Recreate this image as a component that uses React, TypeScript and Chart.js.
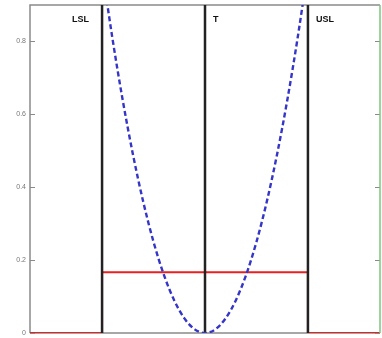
import React, { useEffect, useRef } from "react";
import { Chart, registerables } from "chart.js";

Chart.register(...registerables);

// Specification limits and target
const specLimits = [-1, 0, 1];
const specNames = ["LSL", "T", "USL"];

// Quadratic (Taguchi) loss curve
const lossX = [-1.0, -0.9, -0.8, -0.7, -0.6, -0.5, -0.4, -0.3, -0.2, -0.1, 0, 0.1, 0.2, 0.3, 0.4, 0.5, 0.6, 0.7, 0.8, 0.9, 1.0];
const lossY = [1.0, 0.81, 0.64, 0.49, 0.36, 0.25, 0.16, 0.09, 0.04, 0.01, 0, 0.01, 0.04, 0.09, 0.16, 0.25, 0.36, 0.49, 0.64, 0.81, 1.0];

// Step (goalpost) loss
const stepX = [-1.7, -1, -1, 1, 1, 1.7];
const stepY = [0, 0, 0.1667, 0.1667, 0, 0];

const yTicks = [0, 0.2, 0.4, 0.6, 0.8];
const xRange = [-1.7, 1.7];
const yRange = [0, 0.9];

const framePlugin = {
  id: "frame",
  beforeDatasetsDraw(chart: any) {
    const { ctx, chartArea: a, scales } = chart;
    ctx.save();
    ctx.lineWidth = 1.5;
    ctx.strokeStyle = "#8a8a8a";
    ctx.beginPath();
    ctx.moveTo(a.left, a.bottom);
    ctx.lineTo(a.left, a.top);
    ctx.lineTo(a.right, a.top);
    ctx.moveTo(a.left, a.bottom);
    ctx.lineTo(a.right, a.bottom);
    ctx.stroke();
    ctx.lineWidth = 1;
    ctx.beginPath();
    for (const t of yTicks) {
      const py = Math.round(scales.y.getPixelForValue(t)) + 0.5;
      ctx.moveTo(a.left, py);
      ctx.lineTo(a.left + 5, py);
      ctx.moveTo(a.right, py);
      ctx.lineTo(a.right - 5, py);
    }
    ctx.stroke();
    ctx.restore();
  },
  afterDatasetsDraw(chart: any) {
    const { ctx, chartArea: a, scales } = chart;
    ctx.save();
    ctx.strokeStyle = "#7cc47c";
    ctx.lineWidth = 1.5;
    ctx.beginPath();
    ctx.moveTo(a.right, a.top);
    ctx.lineTo(a.right, a.bottom);
    ctx.stroke();
    ctx.fillStyle = "#111";
    ctx.font = "bold 9px 'Liberation Sans', Arial, sans-serif";
    ctx.textBaseline = "middle";
    const ty = scales.y.getPixelForValue(0.86);
    specLimits.forEach((v, i) => {
      const px = scales.x.getPixelForValue(v);
      if (i === 0) {
        ctx.textAlign = "right";
        ctx.fillText(specNames[i], px - 13, ty);
      } else {
        ctx.textAlign = "left";
        ctx.fillText(specNames[i], px + 8, ty);
      }
    });
    ctx.restore();
  },
};

export default function App() {
  const ref = useRef<HTMLCanvasElement>(null);

  useEffect(() => {
    if (!ref.current) return;
    const vertical = specLimits.map((v) => ({
      data: [
        { x: v, y: yRange[0] },
        { x: v, y: yRange[1] },
      ],
      borderColor: "#222222",
      borderWidth: 2.5,
      pointRadius: 0,
    }));
    const chart = new Chart(ref.current, {
      type: "line",
      data: {
        // earlier datasets are painted on top
        datasets: [
          {
            data: lossX.map((x, i) => ({ x, y: lossY[i] })),
            borderColor: "#3535c8",
            borderWidth: 2.4,
            borderDash: [5, 3],
            pointRadius: 0,
            cubicInterpolationMode: "monotone",
          },
          ...vertical,
          {
            data: stepX.map((x, i) => ({ x, y: stepY[i] })),
            borderColor: "#e82020",
            borderWidth: 2,
            pointRadius: 0,
          },
        ],
      },
      options: {
        animation: false,
        responsive: false,
        maintainAspectRatio: false,
        layout: { padding: { left: 0, top: 5, right: 2, bottom: 0 } },
        plugins: { legend: { display: false }, tooltip: { enabled: false } },
        scales: {
          x: {
            type: "linear",
            min: xRange[0],
            max: xRange[1],
            ticks: { display: false },
            grid: { display: false, drawTicks: false },
            border: { display: false },
            afterFit: (s: any) => {
              s.height = 5;
              s.paddingLeft = 0;
              s.paddingRight = 0;
            },
          },
          y: {
            min: yRange[0],
            max: yRange[1],
            afterBuildTicks: (s: any) => {
              s.ticks = yTicks.map((v) => ({ value: v }));
            },
            ticks: {
              font: { size: 7, family: "'Liberation Sans', Arial, sans-serif" },
              color: "#777777",
              padding: 4,
            },
            grid: { display: false, drawTicks: false },
            border: { display: false },
            afterFit: (s: any) => {
              s.width = 30;
              s.paddingTop = 0;
              s.paddingBottom = 0;
            },
          },
        },
      },
      plugins: [framePlugin],
    } as any);
    return () => chart.destroy();
  }, []);

  return (
    <div style={{ position: "fixed", left: 0, top: 0, width: 382, height: 338, background: "#fff" }}>
      <canvas ref={ref} width={382} height={338} style={{ display: "block" }} />
    </div>
  );
}
